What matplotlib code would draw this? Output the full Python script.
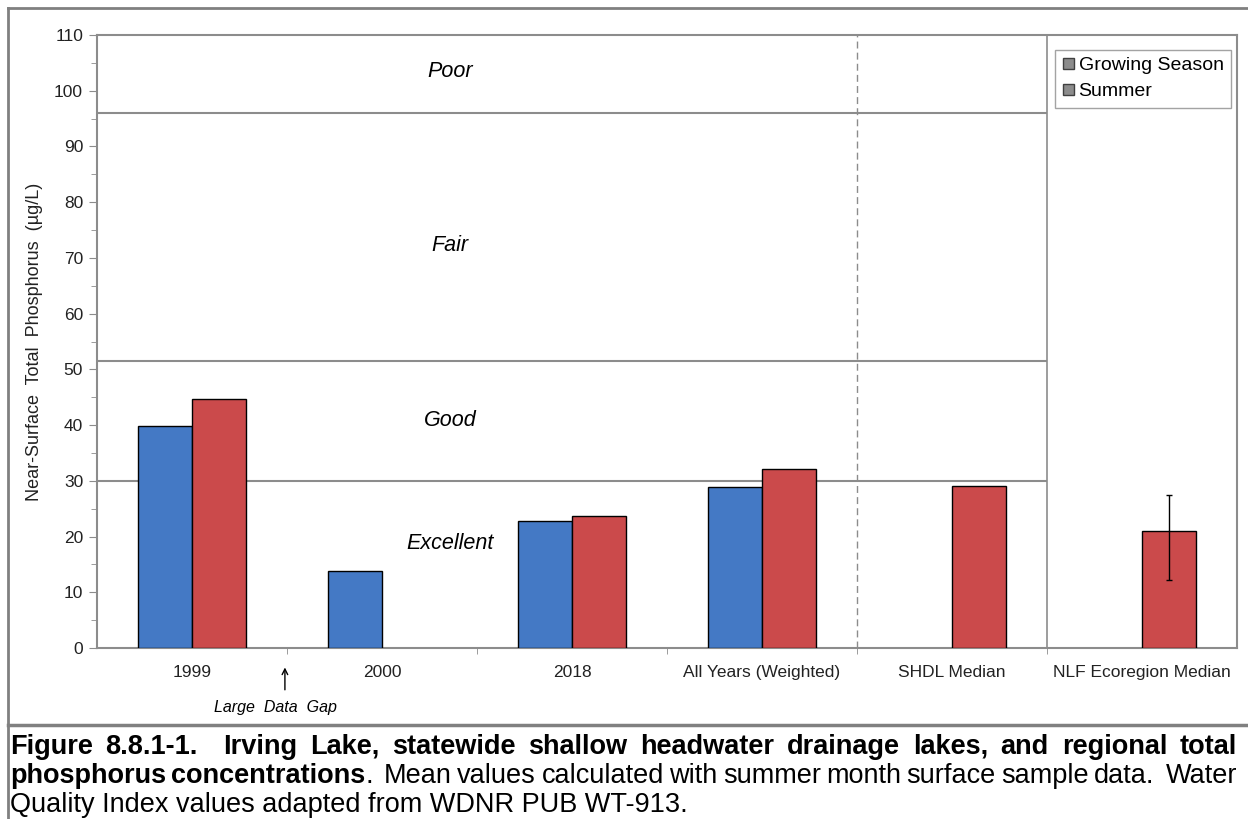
import numpy as np
import matplotlib
matplotlib.use("Agg")
import matplotlib.pyplot as plt
from matplotlib.patches import Patch
from matplotlib.lines import Line2D
from matplotlib.ticker import MultipleLocator

plt.rcParams["font.family"] = ["Liberation Sans", "DejaVu Sans"]

# data
categories = ["1999", "2000", "2018", "All Years (Weighted)", "SHDL Median", "NLF Ecoregion Median"]
growing_season = [39.8, 13.9, 22.7, 28.9, None, None]
summer = [44.7, None, 23.7, 32.1, 29.1, 21.0]
nlf_range = [12.2, 27.4]  # error bar low/high for NLF median

quality_limits = [30, 51.5, 96]
quality_labels = ["Excellent", "Good", "Fair", "Poor"]
quality_label_y = [18.8, 40.9, 72.3, 103.4]

caption_lines = [
    [[("Figure", "bold")], [("8.8.1-1.", "bold")], [("", "bold")], [("Irving", "bold")], [("Lake,", "bold")],
     [("statewide", "bold")], [("shallow", "bold")], [("headwater", "bold")], [("drainage", "bold")],
     [("lakes,", "bold")], [("and", "bold")], [("regional", "bold")], [("total", "bold")]],
    [[("phosphorus", "bold")], [("concentrations", "bold"), (".", "normal")], [("", "normal")], [("Mean", "normal")],
     [("values", "normal")], [("calculated", "normal")], [("with", "normal")], [("summer", "normal")],
     [("month", "normal")], [("surface", "normal")], [("sample", "normal")], [("data.", "normal")],
     [("", "normal")], [("Water", "normal")]],
]
caption_last = "Quality Index values adapted from WDNR PUB WT-913."

W, H = 1248, 819
fig = plt.figure(figsize=(W / 100, H / 100), dpi=100)
ax = fig.add_axes([97 / W, 1 - 648 / H, 1140 / W, 613 / H])

blue = "#4479c5"
red = "#cb4a4b"
grey = "#8c8c8c"
bw = 0.285
x = np.arange(len(categories))

gx = [i for i, v in enumerate(growing_season) if v is not None]
gv = [v for v in growing_season if v is not None]
sx = [i for i, v in enumerate(summer) if v is not None]
sv = [v for v in summer if v is not None]
ax.bar(np.array(gx) - bw / 2, gv, bw, color=blue, edgecolor="black", linewidth=1, zorder=3)
ax.bar(np.array(sx) + bw / 2, sv, bw, color=red, edgecolor="black", linewidth=1, zorder=3)

nlf = summer[5]
ax.errorbar([5 + bw / 2], [nlf], yerr=[[nlf - nlf_range[0]], [nlf_range[1] - nlf]],
            fmt="none", ecolor="black", elinewidth=1, capsize=2.5, capthick=1, zorder=4)

# quality index lines
ax.hlines(quality_limits, -0.5, 4.5, color=grey, linewidth=1.5, zorder=1)
ax.vlines(3.5, 0, 110, color=grey, linewidth=1, linestyle=(0, (5, 3)), zorder=1)
ax.vlines(4.5, 0, 110, color=grey, linewidth=1.2, zorder=1)
for lab, yy in zip(quality_labels, quality_label_y):
    ax.text(1.358, yy, lab, fontsize=15.5, style="italic", ha="center", va="center")

ax.set_xlim(-0.5, 5.5)
ax.set_ylim(0, 110)
ax.set_yticks(range(0, 111, 10))
ax.yaxis.set_minor_locator(MultipleLocator(5))
ax.set_xticks(x)
ax.set_xticklabels(categories, fontsize=12.5, color="#222222")
ax.set_xticks(np.arange(0.5, 5, 1), minor=True)
ax.tick_params(axis="x", which="major", length=0, pad=12)
ax.tick_params(axis="x", which="minor", length=4, color=grey)
ax.tick_params(axis="y", which="major", length=6, color=grey, labelsize=12.5, labelcolor="#222222", pad=4)
ax.tick_params(axis="y", which="minor", length=4, color=grey)
for s in ax.spines.values():
    s.set_color(grey)
    s.set_linewidth(1.5)
ax.set_ylabel("Near-Surface  Total  Phosphorus  (µg/L)", fontsize=13, labelpad=8, color="#222222")

handles = [Patch(facecolor="#8c8c8c", edgecolor="#404040", label="Growing Season"),
           Patch(facecolor="#8c8c8c", edgecolor="#404040", label="Summer")]
leg = ax.legend(handles=handles, loc="upper right", bbox_to_anchor=(0.995, 0.976), borderaxespad=0,
                fontsize=14, fancybox=False, edgecolor=grey, handlelength=0.55, handleheight=0.55,
                handletextpad=0.25, borderpad=0.4, labelspacing=0.45)
leg.get_frame().set_linewidth(1)

ax.text(0.437, -10.6, "Large  Data  Gap", fontsize=11.5, style="italic", ha="center", va="center",
        clip_on=False)
ax.annotate("", xy=(0.489, -3.0), xytext=(0.489, -8.0), annotation_clip=False,
            arrowprops=dict(arrowstyle="->", color="black", lw=1))

# frame lines
def fline(x0, y0, x1, y1, lw):
    fig.add_artist(Line2D([x0 / W, x1 / W], [1 - y0 / H, 1 - y1 / H], color="#808080", linewidth=lw))

fline(8, 8, W, 8, 2)
fline(8, 8, 8, H, 2)
fline(8, 725, W, 725, 2.5)

# caption, justified
renderer = fig.canvas.get_renderer()
cap_size = 19.5
left, right = 10, 1237
baselines = [754, 783, 812]

def seg_width(txt, weight):
    t = fig.text(0, 0, txt, fontsize=cap_size, fontweight=weight)
    w = t.get_window_extent(renderer=renderer).width
    t.remove()
    return w

for line, base in zip(caption_lines, baselines[:2]):
    widths = [sum(seg_width(s, wt) for s, wt in word) if word[0][0] else 0 for word in line]
    gap = (right - left - sum(widths)) / (len(line) - 1)
    xp = left
    for word, wdt in zip(line, widths):
        xs = xp
        for s, wt in word:
            if s:
                fig.text(xs / W, 1 - base / H, s, fontsize=cap_size, fontweight=wt, va="baseline", ha="left")
                xs += seg_width(s, wt)
        xp += wdt + gap

fig.text(left / W, 1 - baselines[2] / H, caption_last, fontsize=cap_size, va="baseline", ha="left")

fig.savefig("out.png", dpi=100)
